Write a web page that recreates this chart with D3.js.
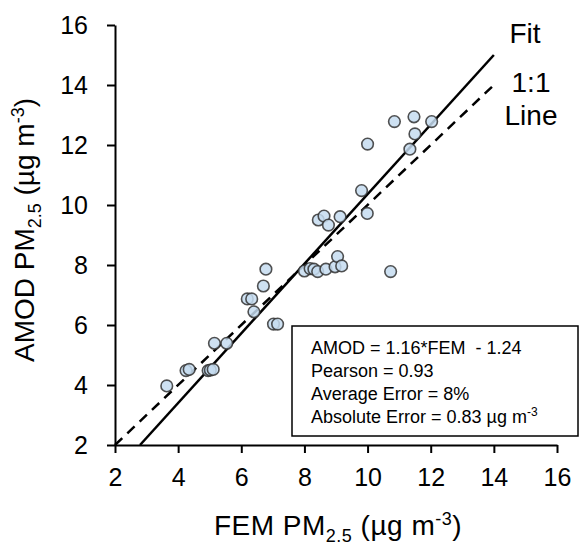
<!DOCTYPE html>
<html>
<head>
<meta charset="utf-8">
<script src="https://cdn.jsdelivr.net/npm/d3@7"></script>
<style>
	body { margin: 0; background: #ffffff; }
	svg text { font-family: Arial, "Liberation Sans", sans-serif; fill: #000000; }
	.axis path, .axis line { stroke: #000000; stroke-width: 2px; }
</style>
</head>
<body>
<svg id="chart"></svg>
<script>
// Data.
var femValues  = [3.64, 4.25, 4.35, 4.95, 5.02, 5.11, 5.15, 5.54, 6.19, 6.33, 6.40, 6.70, 6.78, 7.02, 7.15,
                  8.00, 8.18, 8.30, 8.42, 8.68, 8.97, 9.05, 9.18, 8.44, 8.62, 8.76, 9.13, 9.81, 9.99, 10.00,
                  10.73, 10.85, 11.34, 11.50, 11.47, 12.03];
var amodValues = [3.97, 4.48, 4.52, 4.48, 4.50, 4.52, 5.39, 5.39, 6.87, 6.87, 6.44, 7.30, 7.86, 6.03, 6.03,
                  7.80, 7.88, 7.86, 7.78, 7.86, 7.94, 8.28, 7.97, 9.50, 9.63, 9.33, 9.61, 10.48, 9.72, 12.03,
                  7.78, 12.78, 11.86, 12.37, 12.94, 12.78];
var tickValues = [2, 4, 6, 8, 10, 12, 14, 16];
var fitSlope = 1.16;
var fitIntercept = -1.24;
var lineEndX = 14;
var statLines = ["AMOD = 1.16*FEM\u00a0 - 1.24", "Pearson = 0.93", "Average Error = 8%", "Absolute Error = 0.83 \u00b5g m"];

// Definitions.
var width = 580;
var height = 545;
var plotLeft = 115;
var plotRight = 557;
var plotTop = 25;
var plotBottom = 445;

var svg = d3.select("#chart")
	.attr("width", width)
	.attr("height", height);

var x = d3.scaleLinear().domain([2, 16]).range([plotLeft, plotRight]);
var y = d3.scaleLinear().domain([2, 16]).range([plotBottom, plotTop]);

// Axes.
var xAxis = svg.append("g")
	.attr("class", "axis")
	.attr("transform", "translate(0," + plotBottom + ")")
	.call(d3.axisBottom(x).tickValues(tickValues).tickSize(8).tickPadding(15).tickSizeOuter(0));
var yAxis = svg.append("g")
	.attr("class", "axis")
	.attr("transform", "translate(" + plotLeft + ",0)")
	.call(d3.axisLeft(y).tickValues(tickValues).tickSize(8).tickPadding(19).tickSizeOuter(0));
svg.selectAll(".axis text")
	.style("font-size", "25px")
	.style("font-family", "Arial, 'Liberation Sans', sans-serif")
	.attr("fill", "#000000");

// Axis titles with sub and superscripts.
function addTitle(g, name)
{
	g.append("tspan").text(name + " PM");
	g.append("tspan").text("2.5").style("font-size", "18px").attr("dy", 7);
	g.append("tspan").text(" (\u00b5g m").attr("dy", -7);
	g.append("tspan").text("-3").style("font-size", "18px").attr("dy", -10);
	g.append("tspan").text(")").attr("dy", 10);
}
var xTitle = svg.append("text")
	.attr("x", 338)
	.attr("y", 535)
	.attr("text-anchor", "middle")
	.style("font-size", "28px")
	.style("letter-spacing", "0.5px");
addTitle(xTitle, "FEM");
var yTitle = svg.append("text")
	.attr("transform", "translate(34,230) rotate(-90)")
	.attr("text-anchor", "middle")
	.style("font-size", "28px");
addTitle(yTitle, "AMOD");

// 1:1 line (dashed) and fit line (solid).
svg.append("line")
	.attr("x1", x(2)).attr("y1", y(2))
	.attr("x2", x(lineEndX)).attr("y2", y(lineEndX))
	.attr("stroke", "#000000")
	.attr("stroke-width", 2.5)
	.attr("stroke-dasharray", "10,7");
var fitStartX = (2 - fitIntercept) / fitSlope;
svg.append("line")
	.attr("x1", x(fitStartX)).attr("y1", y(2))
	.attr("x2", x(lineEndX)).attr("y2", y(fitSlope * lineEndX + fitIntercept))
	.attr("stroke", "#000000")
	.attr("stroke-width", 2.5);

// Points.
svg.selectAll(".point")
	.data(d3.range(femValues.length))
	.enter()
	.append("circle")
	.attr("class", "point")
	.attr("cx", function(i) { return x(femValues[i]); })
	.attr("cy", function(i) { return y(amodValues[i]); })
	.attr("r", 5.8)
	.attr("fill", "#c5dcf0")
	.attr("fill-opacity", 0.85)
	.attr("stroke", "#333333")
	.attr("stroke-opacity", 0.85)
	.attr("stroke-width", 1.6);

// Line labels.
svg.append("text").attr("x", 525).attr("y", 43).attr("text-anchor", "middle").style("font-size", "28px").text("Fit");
svg.append("text").attr("x", 531).attr("y", 92).attr("text-anchor", "middle").style("font-size", "28px").text("1:1");
svg.append("text").attr("x", 531).attr("y", 125).attr("text-anchor", "middle").style("font-size", "28px").text("Line");

// Statistics box.
svg.append("rect")
	.attr("x", 292)
	.attr("y", 326)
	.attr("width", 286)
	.attr("height", 110)
	.attr("fill", "#ffffff")
	.attr("stroke", "#000000")
	.attr("stroke-width", 1.5);
var statText = svg.selectAll(".stat")
	.data(statLines)
	.enter()
	.append("text")
	.attr("class", "stat")
	.attr("x", 311)
	.attr("y", function(d, i) { return 354 + i * 23; })
	.style("font-size", "18px")
	.text(function(d) { return d; });
d3.select(statText.nodes()[3]).append("tspan")
	.text("-3")
	.style("font-size", "12px")
	.attr("dy", -7);
</script>
</body>
</html>
